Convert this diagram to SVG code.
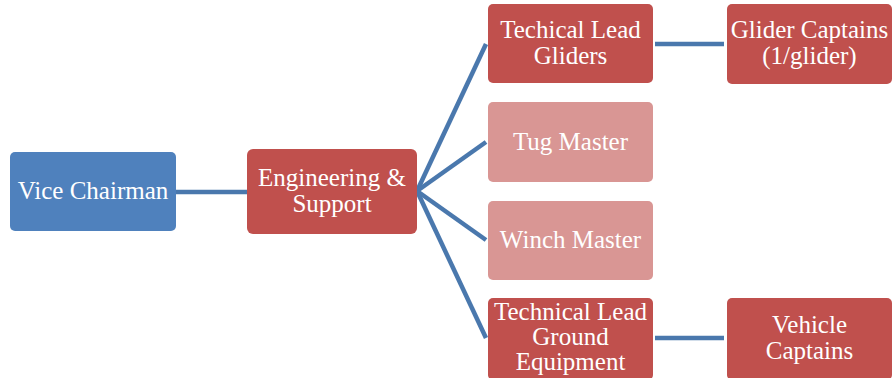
<svg xmlns="http://www.w3.org/2000/svg" width="892" height="378" viewBox="0 0 892 378">
<style>
.box{stroke:none}
.blue{fill:#4F81BD}
.red{fill:#C0504D}
.light{fill:#D99694}
.lbl{font-family:"Liberation Serif","Times New Roman",serif;font-size:25px;fill:#ffffff;text-anchor:middle}
.conn{stroke:#4A78AD;stroke-width:4.5;fill:none;stroke-linecap:butt}
</style>
<rect width="892" height="378" fill="#ffffff"/>
<g id="connectors">
<line class="conn" x1="176" y1="192" x2="247" y2="192"/>
<line class="conn" x1="417" y1="191" x2="486" y2="44"/>
<line class="conn" x1="417" y1="191" x2="486" y2="142"/>
<line class="conn" x1="417" y1="191" x2="486" y2="240"/>
<line class="conn" x1="417" y1="191" x2="486" y2="338"/>
<line class="conn" x1="655" y1="44" x2="724" y2="44"/>
<line class="conn" x1="655" y1="338" x2="724" y2="338"/>
</g>
<g id="vice-chairman">
<rect class="box blue" x="10" y="152" width="166" height="79" rx="5"/>
<text class="lbl" x="93" y="199">Vice Chairman</text>
</g>
<g id="engineering-support">
<rect class="box red" x="247" y="149" width="170" height="85" rx="6"/>
<text class="lbl" x="332" y="186">Engineering &amp;</text>
<text class="lbl" x="332" y="212">Support</text>
</g>
<g id="tech-lead-gliders">
<rect class="box red" x="488" y="4" width="165" height="79" rx="5"/>
<text class="lbl" x="570.5" y="38">Techical Lead</text>
<text class="lbl" x="570.5" y="64">Gliders</text>
</g>
<g id="glider-captains">
<rect class="box red" x="727" y="4" width="165" height="80" rx="5"/>
<text class="lbl" x="809.5" y="38">Glider Captains</text>
<text class="lbl" x="809.5" y="64">(1/glider)</text>
</g>
<g id="tug-master">
<rect class="box light" x="488" y="102" width="165" height="80" rx="5"/>
<text class="lbl" x="570.5" y="150">Tug Master</text>
</g>
<g id="winch-master">
<rect class="box light" x="488" y="201" width="165" height="79" rx="5"/>
<text class="lbl" x="570.5" y="248">Winch Master</text>
</g>
<g id="tech-lead-ground">
<rect class="box red" x="488" y="298" width="165" height="82" rx="5"/>
<text class="lbl" x="570.5" y="320">Technical Lead</text>
<text class="lbl" x="570.5" y="345">Ground</text>
<text class="lbl" x="570.5" y="370">Equipment</text>
</g>
<g id="vehicle-captains">
<rect class="box red" x="727" y="298" width="165" height="82" rx="5"/>
<text class="lbl" x="809.5" y="333">Vehicle</text>
<text class="lbl" x="809.5" y="359">Captains</text>
</g>
</svg>
